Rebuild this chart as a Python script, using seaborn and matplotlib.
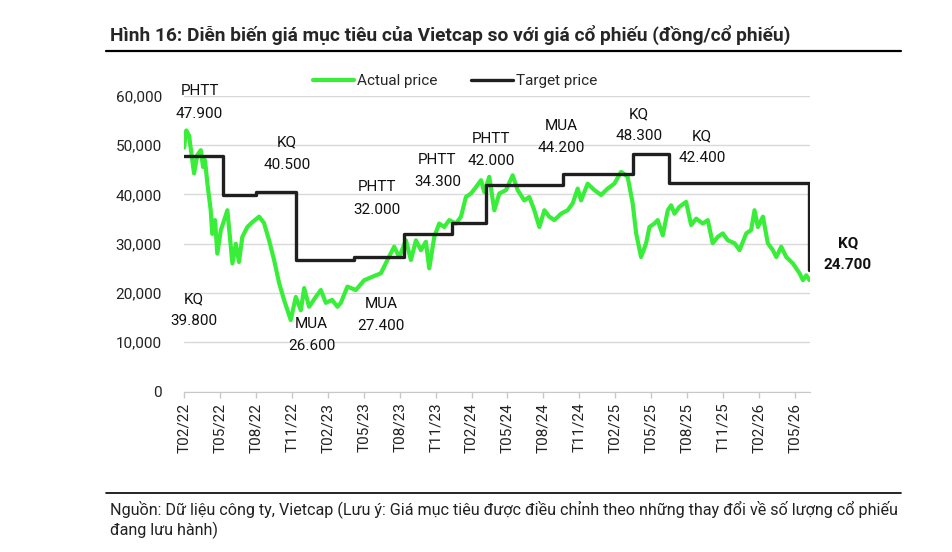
import pandas as pd
import matplotlib.pyplot as plt
import seaborn as sns
from matplotlib.lines import Line2D

# Data (x = months since T02/22)
price_month = [0.00, 0.19, 0.42, 0.69, 0.84, 1.11, 1.40, 1.59, 1.75, 1.95, 2.23, 2.36, 2.59, 2.78,
               3.07, 3.62, 4.04, 4.32, 4.59, 4.87, 5.29, 5.71, 6.27, 6.68, 7.10, 7.52, 7.94, 8.35,
               8.91, 9.33, 9.75, 10.03, 10.44, 11.00, 11.42, 11.84, 12.36, 12.81, 13.09, 13.64,
               14.34, 15.04, 15.73, 16.43, 16.98, 17.54, 17.96, 18.52, 18.94, 19.36, 19.77, 20.19,
               20.47, 20.89, 21.30, 21.72, 22.14, 22.70, 23.12, 23.53, 23.95, 24.37, 24.79, 25.06,
               25.48, 25.90, 26.32, 26.88, 27.43, 27.85, 28.40, 28.82, 29.24, 29.66, 30.08, 30.49,
               30.91, 31.47, 32.02, 32.44, 32.86, 33.14, 33.69, 34.25, 34.81, 35.36, 35.92, 36.48,
               37.03, 37.45, 37.74, 38.15, 38.57, 38.85, 39.26, 39.54, 39.96, 40.38, 40.66, 40.94,
               41.35, 41.91, 42.33, 42.75, 43.30, 43.72, 44.13, 44.55, 44.97, 45.39, 45.95, 46.37,
               46.93, 47.34, 47.62, 47.90, 48.32, 48.73, 49.15, 49.44, 49.85, 50.27, 50.82, 51.38,
               51.66, 51.94, 52.21]
price_value = [49500, 53000, 52000, 47000, 44300, 48000, 49000, 45600, 47000, 42300, 36800, 32000,
               34800, 28000, 32700, 36800, 26000, 30000, 26300, 31400, 33400, 34400, 35500, 34200,
               30700, 26700, 22000, 18600, 14500, 19200, 16500, 21000, 17200, 19200, 20600, 18000,
               18600, 17200, 18000, 21300, 20600, 22600, 23300, 24000, 26700, 29400, 27300, 30700,
               26700, 30700, 28700, 30400, 25000, 31400, 34100, 33400, 34800, 34100, 35500, 39500,
               40200, 41500, 42900, 40500, 43600, 36800, 40200, 40900, 43900, 40900, 38800, 39500,
               36800, 33400, 36800, 35500, 34800, 36100, 36800, 38200, 41200, 38800, 42200, 40900,
               39900, 41200, 42200, 44600, 43600, 38200, 32100, 27300, 30100, 33400, 34100, 34800,
               31700, 36800, 37800, 36100, 37500, 38500, 33800, 35100, 34100, 34800, 30100, 31400,
               32100, 30700, 30100, 28700, 32100, 32800, 36800, 33400, 35500, 30100, 28700, 27300,
               29400, 27300, 26000, 24000, 22600, 23600, 22600]

target_month = [0.0, 3.26, 6.0, 9.36, 14.2, 18.35, 22.36, 25.2, 31.6, 37.5, 40.5, 52.2]
target_value = [47900, 39800, 40500, 26600, 27400, 32000, 34300, 42000, 44200, 48300, 42400, 24700]

tick_month = list(range(0, 52, 3))
tick_labels = ['T02/22', 'T05/22', 'T08/22', 'T11/22', 'T02/23', 'T05/23', 'T08/23', 'T11/23',
               'T02/24', 'T05/24', 'T08/24', 'T11/24', 'T02/25', 'T05/25', 'T08/25', 'T11/25',
               'T02/26', 'T05/26']

note_text = ['PHTT\n47.900', 'KQ\n39.800', 'KQ\n40.500', 'MUA\n26.600', 'PHTT\n32.000',
             'MUA\n27.400', 'PHTT\n34.300', 'PHTT\n42.000', 'MUA\n44.200', 'KQ\n48.300',
             'KQ\n42.400', 'KQ\n24.700']
note_month = [1.3, 0.84, 8.6, 10.65, 16.1, 16.45, 21.15, 25.65, 31.5, 37.97, 43.25, 55.4]
note_value = [58700, 16500, 48300, 11500, 39200, 15600, 44800, 49100, 51600, 54100, 49600, 27900]

df_price = pd.DataFrame({'month': price_month, 'price': price_value})
df_target = pd.DataFrame({'month': target_month, 'price': target_value})

sns.set_style("white")
plt.rcParams['font.family'] = ['Roboto', 'DejaVu Sans']

fig = plt.figure(figsize=(9.53, 5.52), dpi=100)
ax = fig.add_axes([184 / 953, 1 - 391.5 / 552, 626 / 953, 295.5 / 552])

sns.lineplot(data=df_price, x='month', y='price', ax=ax, color='#38ee38', linewidth=3,
             label='Actual price', sort=False)
sns.lineplot(data=df_target, x='month', y='price', ax=ax, color='#1f1f1f', linewidth=2.4,
             drawstyle='steps-post', label='Target price', sort=False)

ax.set_xlim(0, 52.25)
ax.set_ylim(0, 60000)
ax.set_yticks(range(0, 60001, 10000))
ax.set_yticklabels([f'{v:,}' for v in range(0, 60001, 10000)])
ax.set_xticks(tick_month)
ax.set_xticklabels(tick_labels, rotation=90)
ax.tick_params(axis='y', length=0, pad=16, labelsize=11, labelcolor='#222222')
ax.tick_params(axis='x', length=4, width=1, color='#c8c8c8', pad=4, labelsize=11,
               labelcolor='#222222', bottom=True)
ax.set_xlabel('')
ax.set_ylabel('')
ax.grid(axis='y', color='#d9d9d9', linewidth=1)
for side in ['top', 'right', 'left']:
    ax.spines[side].set_visible(False)
ax.spines['bottom'].set_color('#c8c8c8')

for txt, m, v in zip(note_text, note_month, note_value):
    bold = txt.startswith('KQ\n24')
    ax.text(m, v, txt, ha='center', va='center', fontsize=11, linespacing=1.75,
            color='#111111', fontweight='bold' if bold else 'normal', clip_on=False)

ax.legend(loc='center', bbox_to_anchor=(455 / 953, 1 - 81 / 552), bbox_transform=fig.transFigure,
          ncol=2, frameon=False, fontsize=11, handlelength=2.7, handletextpad=0.2,
          columnspacing=2.2)

# Title and footer
fig.text(110 / 953, 1 - 35 / 552,
         'Hình 16: Diễn biến giá mục tiêu của Vietcap so với giá cổ phiếu (đồng/cổ phiếu)',
         fontsize=13.8, fontweight='bold', va='center', ha='left')
fig.add_artist(Line2D([106 / 953, 901 / 953], [1 - 51 / 552] * 2, color='black', linewidth=1.6))
fig.add_artist(Line2D([106 / 953, 901 / 953], [1 - 493 / 552] * 2, color='black', linewidth=1.2))
fig.text(110 / 953, 1 - 509 / 552,
         'Nguồn: Dữ liệu công ty, Vietcap (Lưu ý: Giá mục tiêu được điều chỉnh theo những thay đổi về số lượng cổ phiếu',
         fontsize=11.6, va='center', ha='left', color='#222222')
fig.text(110 / 953, 1 - 530 / 552, 'đang lưu hành)',
         fontsize=11.6, va='center', ha='left', color='#222222')

plt.savefig('out.png', dpi=100)
